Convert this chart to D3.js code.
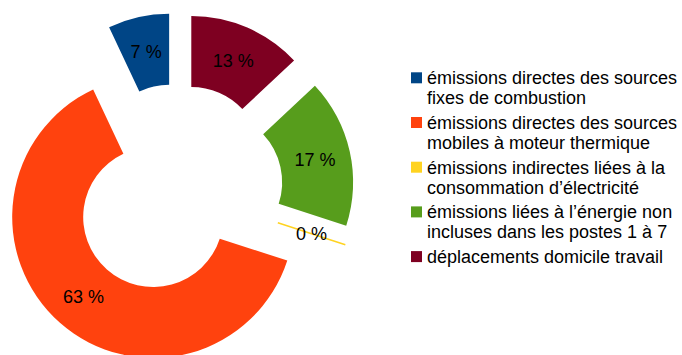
<!DOCTYPE html>
<html><head><meta charset="utf-8">
<script src="https://cdn.jsdelivr.net/npm/d3@7"></script>
<style>body{margin:0;background:#fff}svg{display:block}</style>
</head><body>
<svg id="chart" width="682" height="355"></svg>
<script>
const categories = [
  ["émissions directes des sources", "fixes de combustion"],
  ["émissions directes des sources", "mobiles à moteur thermique"],
  ["émissions indirectes liées à la", "consommation d’électricité"],
  ["émissions liées à l’énergie non", "incluses dans les postes 1 à 7"],
  ["déplacements domicile travail"]
];
const values = [7, 63, 0, 17, 13];
const labels = ["7 %", "63 %", "0 %", "17 %", "13 %"];
const colors = ["#004586", "#ff420e", "#ffd320", "#579d1c", "#7e0021"];

const svg = d3.select("#chart");
const cx = 177, cy = 190, rIn = 70, rOut = 141, explode = 36;
const font = "'Liberation Sans', Arial, sans-serif";

const pie = d3.pie().sort(null).value(d => d).startAngle(0).endAngle(-2 * Math.PI);
const arcs = pie(values);
const arc = d3.arc().innerRadius(rIn).outerRadius(rOut);

const g = svg.append("g").attr("transform", `translate(${cx},${cy})`);
const slices = g.selectAll("g.slice").data(arcs).enter().append("g")
  .attr("class", "slice")
  .attr("transform", d => {
    const m = (d.startAngle + d.endAngle) / 2;
    const p = d3.pointRadial(m, explode);
    return `translate(${p[0]},${p[1]})`;
  });

slices.each(function(d, i) {
  const s = d3.select(this);
  if (d.value > 0) {
    s.append("path").attr("d", arc(d)).attr("fill", colors[i]);
  } else {
    const a = d.startAngle;
    const p0 = d3.pointRadial(a, rIn), p1 = d3.pointRadial(a, rOut);
    s.append("line").attr("x1", p0[0]).attr("y1", p0[1]).attr("x2", p1[0]).attr("y2", p1[1])
      .attr("stroke", colors[i]).attr("stroke-width", 1.5);
  }
});

slices.append("text")
  .attr("transform", d => {
    const m = (d.startAngle + d.endAngle) / 2;
    const p = d3.pointRadial(m, (rIn + rOut) / 2);
    return `translate(${p[0]},${p[1]})`;
  })
  .attr("text-anchor", "middle")
  .attr("dy", "0.36em")
  .attr("font-family", font)
  .attr("font-size", 18)
  .attr("fill", "#000")
  .text((d, i) => labels[i]);

// Legend
const legY = d3.scaleLinear().domain([0, 1]).range([72.3, 117]);
const leg = svg.append("g");
categories.forEach((lines, i) => {
  const y0 = legY(i);
  leg.append("rect").attr("x", 411).attr("y", y0).attr("width", 11).attr("height", 11).attr("fill", colors[i]);
  const t = leg.append("text").attr("x", 427).attr("y", y0 + 12)
    .attr("font-family", font).attr("font-size", 18).attr("fill", "#000");
  lines.forEach((l, j) => {
    t.append("tspan").attr("x", 427).attr("dy", j === 0 ? 0 : 20).text(l);
  });
});
</script>
</body></html>
